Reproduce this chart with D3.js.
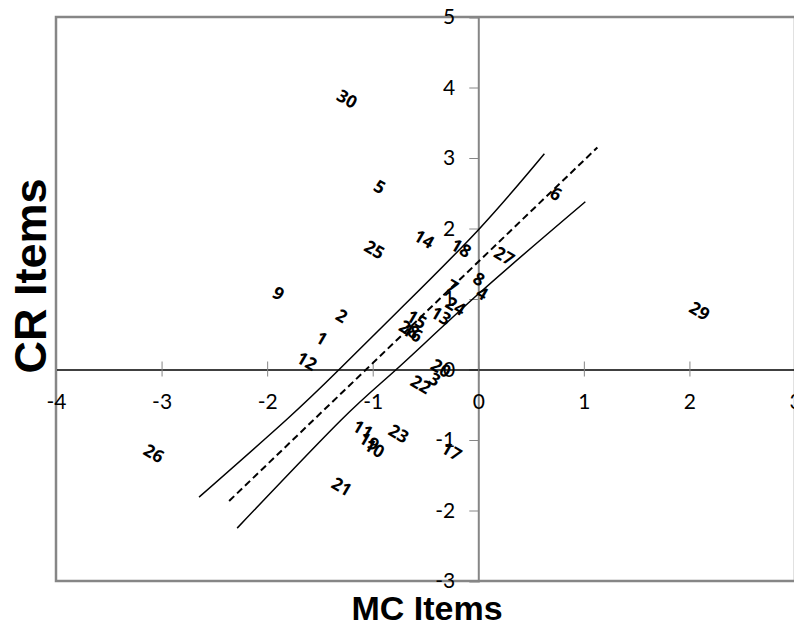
<!DOCTYPE html>
<html>
<head>
<meta charset="utf-8">
<script src="https://cdn.jsdelivr.net/npm/d3@7"></script>
<style>
  body { margin: 0; background: #fff; }
  svg { display: block; }
</style>
</head>
<body>
<div id="chart"></div>
<script>
// item numbers and their positions (MC vs CR)
const items = d3.range(1, 31);
const mcValues = [-1.48, -1.29, -0.41, 0.04, -0.93, 0.74, -0.24, 0.01, -1.89, -0.98,
                  -1.09, -1.62, -0.35, -0.51, -0.58, -0.62, -0.25, -0.16, -1.03, -0.35,
                  -1.29, -0.54, -0.75, -0.21, -0.98, -3.07, 0.25, -0.65, 2.10, -1.24];
const crValues = [0.45, 0.77, -0.13, 1.09, 2.60, 2.50, 1.19, 1.29, 1.09, -1.11,
                  -0.84, 0.13, 0.77, 1.86, 0.72, 0.53, -1.15, 1.73, -1.01, 0.03,
                  -1.65, -0.20, -0.90, 0.91, 1.71, -1.18, 1.62, 0.58, 0.84, 3.85];

// identity line and its band
const fitLine = [[-2.36, -1.865], [1.128, 3.149]];
const upperBand = [[-2.645, -1.81], [-1.82, -0.716], [-1.318, 0], [-0.749, 0.844], [0, 1.98], [0.626, 3.06]];
const lowerBand = [[-2.284, -2.25], [-1.299, -0.716], [-0.777, 0], [0, 1.07], [1.014, 2.38]];

const xTicks = [-4, -3, -2, -1, 0, 1, 2, 3];
const yTicks = [-3, -2, -1, 0, 1, 2, 3, 4, 5];

const W = 794, H = 626;
const svg = d3.select("#chart").append("svg")
    .attr("width", W)
    .attr("height", H);

const x = d3.scaleLinear().domain([-4, 3]).range([56, 795]);
const y = d3.scaleLinear().domain([-3, 5]).range([581, 17]);
const fmt = d => String(d); // plain hyphen minus like the original

// plot frame
svg.append("rect")
    .attr("x", x(-4)).attr("y", y(5))
    .attr("width", x(3) - x(-4)).attr("height", y(-3) - y(5))
    .attr("fill", "none")
    .attr("stroke", "#868686")
    .attr("stroke-width", 2.5);

// vertical axis through x = 0
const yAxis = svg.append("g")
    .attr("transform", `translate(${x(0)},0)`)
    .call(d3.axisLeft(y).tickValues(yTicks).tickSize(9).tickPadding(14).tickFormat(fmt));
yAxis.select(".domain").attr("stroke", "#868686").attr("stroke-width", 2);
yAxis.selectAll(".tick line").attr("stroke", "#868686");
yAxis.selectAll(".tick text")
    .style("font-family", "Lato, 'Open Sans', sans-serif")
    .style("font-size", "21px")
    .attr("fill", "#000");

// horizontal axis through y = 0
const xAxis = svg.append("g")
    .attr("transform", `translate(0,${y(0)})`)
    .call(d3.axisBottom(x).tickValues(xTicks).tickSize(0).tickPadding(25).tickFormat(fmt));
xAxis.select(".domain").attr("stroke", "#000").attr("stroke-width", 1.5);
xAxis.selectAll(".tick line")
    .attr("y1", -8).attr("y2", 7)
    .attr("stroke", "#868686");
xAxis.selectAll(".tick text")
    .style("font-family", "Lato, 'Open Sans', sans-serif")
    .style("font-size", "21px")
    .attr("fill", "#000");

// lines
const line = d3.line().x(d => x(d[0])).y(d => y(d[1]));
const curve = d3.line().x(d => x(d[0])).y(d => y(d[1])).curve(d3.curveNatural);

svg.append("path")
    .attr("d", line(fitLine))
    .attr("fill", "none")
    .attr("stroke", "#000")
    .attr("stroke-width", 2)
    .attr("stroke-dasharray", "7,4");

[upperBand, lowerBand].forEach(band => {
    svg.append("path")
        .attr("d", curve(band))
        .attr("fill", "none")
        .attr("stroke", "#000")
        .attr("stroke-width", 1.5);
});

// item labels as markers
const points = items.map((n, i) => ({ n, mc: mcValues[i], cr: crValues[i] }));
svg.selectAll(".item")
    .data(points)
    .enter()
    .append("text")
    .attr("class", "item")
    .attr("transform", d => `translate(${x(d.mc)},${y(d.cr)}) rotate(30)`)
    .attr("text-anchor", "middle")
    .attr("dominant-baseline", "central")
    .style("font-family", "'Open Sans', Lato, sans-serif")
    .style("font-size", "17.5px")
    .style("font-weight", "bold")
    .text(d => d.n);

// axis titles
svg.append("text")
    .text("MC Items")
    .attr("x", 427)
    .attr("y", 620)
    .attr("text-anchor", "middle")
    .style("font-family", "Arial, 'Liberation Sans', sans-serif")
    .style("font-size", "34px")
    .style("font-weight", "bold");

svg.append("text")
    .text("CR Items")
    .attr("transform", "translate(46,276) rotate(-90)")
    .attr("text-anchor", "middle")
    .style("font-family", "Arial, 'Liberation Sans', sans-serif")
    .style("font-size", "45px")
    .style("font-weight", "bold");
</script>
</body>
</html>
